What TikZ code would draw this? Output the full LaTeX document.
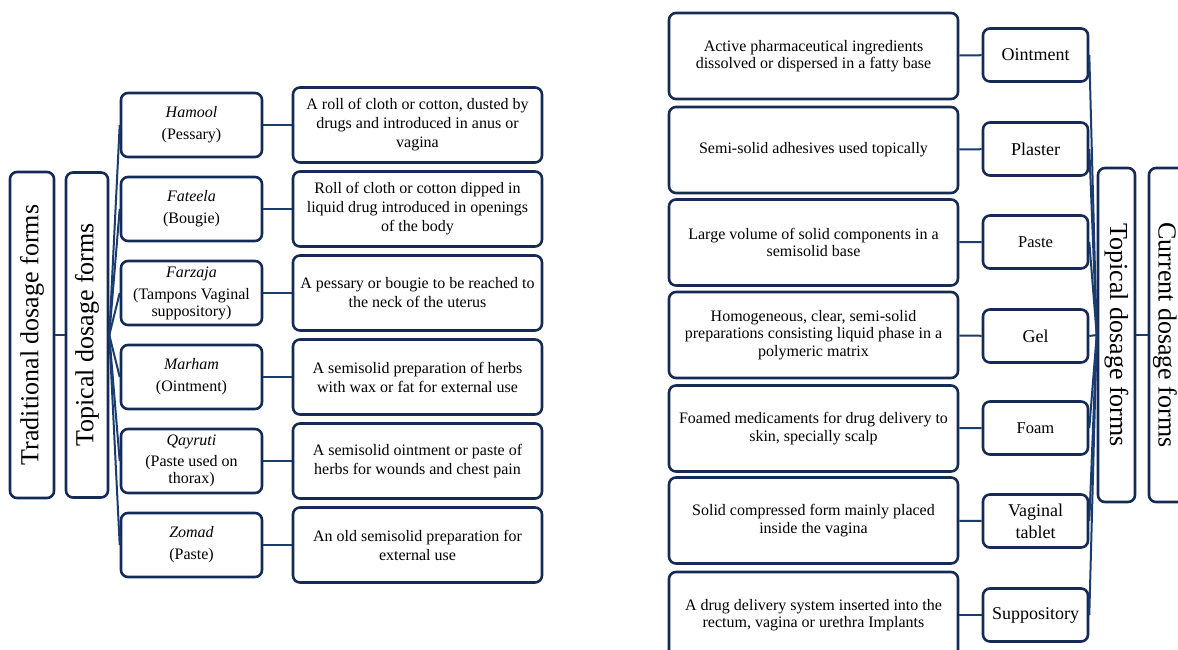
\documentclass[tikz,border=0pt]{standalone}
\usepackage{graphicx}
\usepackage{fontspec}
\setmainfont{Liberation Serif}
\definecolor{navy}{RGB}{22,42,86}
\definecolor{wire}{RGB}{26,60,112}
\tikzset{
  box/.style={draw=navy, line width=2.6pt, rounded corners=7pt, fill=white, align=center, inner sep=1pt},
  bar/.style={box, font=\fontsize{26}{28}\selectfont},
  form/.style={box, minimum width=141pt, minimum height=64pt, font=\fontsize{16}{17}\selectfont},
  info/.style={box, minimum width=249pt, minimum height=75pt, font=\fontsize{16}{19}\selectfont},
  kind/.style={box, minimum width=105pt, minimum height=53pt, font=\fontsize{18}{22}\selectfont},
  note/.style={box, minimum width=289pt, minimum height=86pt, font=\fontsize{16}{17.5}\selectfont},
  link/.style={draw=wire, line width=2pt}
}
\begin{document}
\begin{tikzpicture}[x=1pt,y=-1pt]
  \useasboundingbox (0,0) rectangle (1178,650);
  \clip (0,0) rectangle (1178,650);
  % traditional forms
  \node[bar, minimum width=44pt, minimum height=326pt] (trad) at (32,335) {\rotatebox{90}{Traditional dosage forms}};
  \node[bar, minimum width=42pt, minimum height=325pt] (topL) at (87,335) {\rotatebox{90}{Topical dosage forms}};
  \node[form] (hamool) at (191.5,125) {\textit{Hamool}\\[5pt](Pessary)};
  \node[form] (fateela) at (191.5,209) {\textit{Fateela}\\[5pt](Bougie)};
  \node[form] (farzaja) at (191.5,293) {\textit{Farzaja}\\[5pt](Tampons Vaginal\\suppository)};
  \node[form] (marham) at (191.5,377) {\textit{Marham}\\[5pt](Ointment)};
  \node[form] (qayruti) at (191.5,461) {\textit{Qayruti}\\[4pt](Paste used on\\thorax)};
  \node[form] (zomad) at (191.5,545) {\textit{Zomad}\\[5pt](Paste)};
  \node[info] (dHamool) at (417.5,125) {A roll of cloth or cotton, dusted by\\drugs and introduced in anus or\\vagina};
  \node[info] (dFateela) at (417.5,209) {Roll of cloth or cotton dipped in\\liquid drug introduced in openings\\of the body};
  \node[info] (dFarzaja) at (417.5,293) {A pessary or bougie to be reached to\\the neck of the uterus};
  \node[info] (dMarham) at (417.5,377) {A semisolid preparation of herbs\\with wax or fat for external use};
  \node[info] (dQayruti) at (417.5,461) {A semisolid ointment or paste of\\herbs for wounds and chest pain};
  \node[info] (dZomad) at (417.5,545) {An old semisolid preparation for\\external use};
  \draw[link] (trad.east) -- (topL.west);
  \foreach \f in {hamool,fateela,farzaja,marham,qayruti,zomad}
    \draw[link] (topL.east) -- (\f.west);
  \draw[link] (hamool) -- (dHamool);
  \draw[link] (fateela) -- (dFateela);
  \draw[link] (farzaja) -- (dFarzaja);
  \draw[link] (marham) -- (dMarham);
  \draw[link] (qayruti) -- (dQayruti);
  \draw[link] (zomad) -- (dZomad);
  % current forms
  \node[note] (nOint) at (813.5,56) {Active pharmaceutical ingredients\\dissolved or dispersed in a fatty base};
  \node[note] (nPlas) at (813.5,150) {Semi-solid adhesives used topically};
  \node[note] (nPaste) at (813.5,242.5) {Large volume of solid components in a\\semisolid base};
  \node[note] (nGel) at (813.5,335) {Homogeneous, clear, semi-solid\\preparations consisting liquid phase in a\\polymeric matrix};
  \node[note] (nFoam) at (813.5,428.5) {Foamed medicaments for drug delivery to\\skin, specially scalp};
  \node[note] (nTab) at (813.5,520.5) {Solid compressed form mainly placed\\inside the vagina};
  \node[note] (nSupp) at (813.5,615) {A drug delivery system inserted into the\\rectum, vagina or urethra Implants};
  \node[kind] (ointment) at (1035.5,55) {Ointment};
  \node[kind] (plaster) at (1035.5,149) {Plaster};
  \node[kind, font=\fontsize{16.5}{18}\selectfont] (paste) at (1035.5,242) {Paste};
  \node[kind] (gel) at (1035.5,336) {Gel};
  \node[kind, font=\fontsize{16.5}{18}\selectfont] (foam) at (1035.5,428) {Foam};
  \node[kind] (tablet) at (1035.5,521) {Vaginal\\tablet};
  \node[kind] (supp) at (1035.5,615) {Suppository};
  \node[bar, minimum width=37pt, minimum height=334pt] (topR) at (1116.5,335) {\rotatebox{-90}{Topical dosage forms}};
  \node[bar, minimum width=44pt, minimum height=334pt] (cur) at (1171,335) {\rotatebox{-90}{\raisebox{-6pt}[\height][\depth]{Current dosage forms}}};
  \draw[link] (topR.east) -- (cur.west);
  \foreach \k in {ointment,plaster,paste,gel,foam,tablet,supp}
    \draw[link] (\k.east) -- (topR.west);
  \draw[link] (nOint) -- (ointment);
  \draw[link] (nPlas) -- (plaster);
  \draw[link] (nPaste) -- (paste);
  \draw[link] (nGel) -- (gel);
  \draw[link] (nFoam) -- (foam);
  \draw[link] (nTab) -- (tablet);
  \draw[link] (nSupp) -- (supp);
\end{tikzpicture}
\end{document}
